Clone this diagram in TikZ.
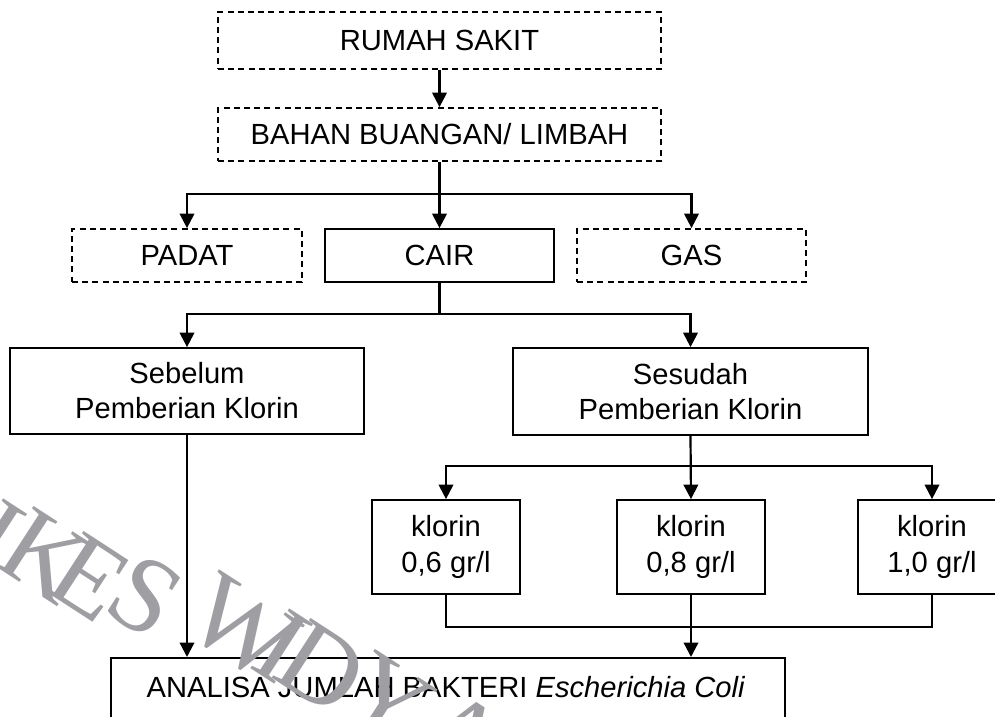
\documentclass[tikz,border=0pt]{standalone}
\usepackage{fontspec}
\setmainfont{Liberation Sans}
\newfontfamily\wmfont{Liberation Serif}
\usetikzlibrary{arrows.meta}
\definecolor{wmgray}{RGB}{158,158,163}
\begin{document}
\begin{tikzpicture}[x=0.02cm,y=-0.02cm,
  every node/.style={font=\fontsize{16.6}{20}\selectfont, align=center, inner sep=0pt},
  boxsolid/.style={draw, line width=1pt, rectangle},
  boxdash/.style={draw, line width=1pt, rectangle, dash pattern=on 3.4pt off 2.4pt},
  conn/.style={line width=1.25pt},
  arr/.style={conn, -{Triangle[length=0.29cm,width=0.29cm]}},
  wm/.style={font=\wmfont\fontsize{62}{62}\selectfont, text=wmgray, rotate=-33}]
\useasboundingbox (0,0) rectangle (995,717);
\clip (0,0) rectangle (995,717);
\fill[white] (0,0) rectangle (995,717);

% boxes
\node[boxdash, minimum width=8.86cm, minimum height=1.14cm] (rs) at (439.5,40.5) {RUMAH SAKIT};
\node[boxdash, minimum width=8.86cm, minimum height=1.06cm] (bb) at (439.5,134.5) {BAHAN BUANGAN/ LIMBAH};
\node[boxdash, minimum width=4.6cm, minimum height=1.06cm] (padat) at (187,255.5) {PADAT};
\node[boxsolid, minimum width=4.58cm, minimum height=1.06cm] (cair) at (439.5,255.5) {CAIR};
\node[boxdash, minimum width=4.58cm, minimum height=1.06cm] (gas) at (691.5,255.5) {GAS};
\node[boxsolid, minimum width=7.08cm, minimum height=1.72cm] (seb) at (187,391) {Sebelum\\Pemberian Klorin};
\node[boxsolid, minimum width=7.1cm, minimum height=1.74cm] (ses) at (690.5,391.5) {Sesudah\\Pemberian Klorin};
\node[boxsolid, minimum width=2.96cm, minimum height=1.88cm] (k1) at (446,547) {klorin\\0,6 gr/l};
\node[boxsolid, minimum width=2.96cm, minimum height=1.88cm] (k2) at (691,547) {klorin\\0,8 gr/l};
\node[boxsolid, minimum width=2.96cm, minimum height=1.88cm] (k3) at (932,547) {klorin\\1,0 gr/l};
\node[boxsolid, minimum width=13.48cm, minimum height=1.8cm, anchor=north] (an) at (448,657) {};
\node (antext) at (446,687) {ANALISA JUMLAH BAKTERI \textit{Escherichia Coli}};

% junctions
\coordinate (j1) at (439.5,194);
\coordinate (j2) at (439.5,314);
\coordinate (j3) at (691,466);
\coordinate (j4) at (691,627);

% connectors
\draw[arr] (rs.south) -- (bb.north);
\draw[arr] (bb.south) -- (cair.north);
\draw[arr] (j1) -| (padat.north);
\draw[arr] (j1) -| (gas.north);
\draw[conn] (cair.south) -- (j2);
\draw[arr] (j2) -| (seb.north);
\draw[arr] (j2) -| (ses.north);
\draw[arr] (seb.south) -- (seb.south |- an.north);
\draw[arr] (ses.south) -- (k2.north);
\draw[arr] (j3) -| (k1.north);
\draw[arr] (j3) -| (k3.north);
\draw[conn] (k1.south) |- (j4) -| (k3.south);
\draw[arr] (k2.south) -- (k2.south |- an.north);

% watermark
\node[wm] (w1) at (-4,536) {I};
\node[wm] (w2) at (45,556) {K};
\node[wm] (w3) at (90,578) {E};
\node[wm] (w4) at (145,596) {S};
\node[wm] (w5) at (243,628) {W};
\node[wm] (w6) at (282,646) {I};
\node[wm] (w7) at (322,668) {D};
\node[wm] (w8) at (388,700) {Y};
\node[wm] (w9) at (462,736) {A};
\end{tikzpicture}
\end{document}
